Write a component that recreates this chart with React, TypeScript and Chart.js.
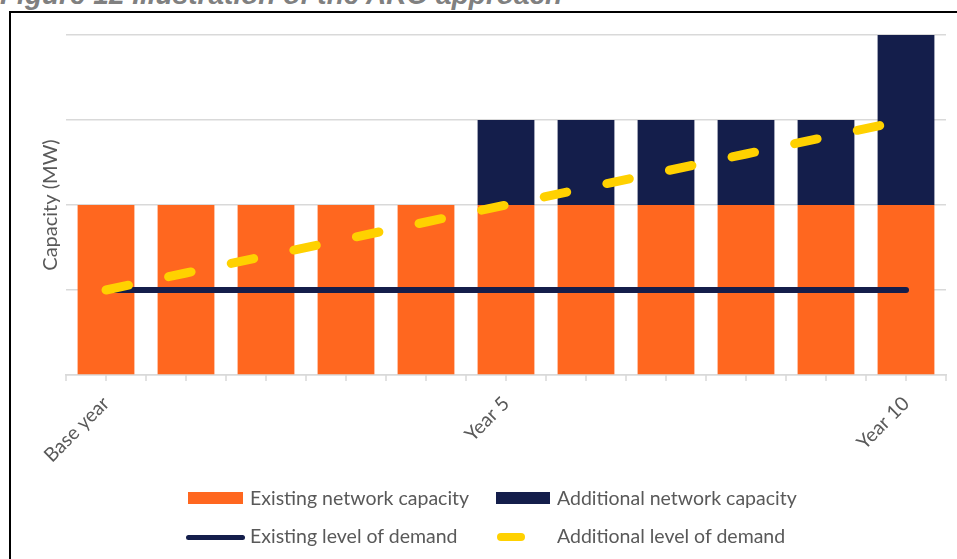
import React, { useEffect, useRef } from "react";
import { Chart, registerables } from "chart.js";

Chart.register(...registerables);

const categories = ["Base year", "", "", "", "", "Year 5", "", "", "", "", "Year 10"];
const existingCapacity = [2, 2, 2, 2, 2, 2, 2, 2, 2, 2, 2];
const additionalCapacity = [0, 0, 0, 0, 0, 1, 1, 1, 1, 1, 2];
const existingDemand = [1, 1, 1, 1, 1, 1, 1, 1, 1, 1, 1];
const additionalDemand = [1, 1.2, 1.4, 1.6, 1.8, 2, 2.2, 2.4, 2.6, 2.8, 3];
const yMin = 0;
const yMax = 4;
const yStep = 1;

const ORANGE = "#FF671F";
const NAVY = "#141E4B";
const YELLOW = "#FFD100";
const TEXT = "#595959";
const GRID = "#d9d9d9";
const FONT = "Lato, 'Open Sans', sans-serif";

const xTickPlugin = {
  id: "xHalfTicks",
  afterDraw(chart: any) {
    const x = chart.scales.x;
    const ctx = chart.ctx;
    const bottom = chart.chartArea.bottom;
    const half = (x.getPixelForValue(1) - x.getPixelForValue(0)) / 2;
    ctx.save();
    ctx.strokeStyle = GRID;
    ctx.lineWidth = 1.5;
    const pos: number[] = [];
    for (let i = 0; i < categories.length; i++) {
      const c = x.getPixelForValue(i);
      pos.push(c - half, c);
    }
    pos.push(x.getPixelForValue(categories.length - 1) + half);
    ctx.beginPath();
    for (const p of pos) {
      ctx.moveTo(p, bottom);
      ctx.lineTo(p, bottom + 6);
    }
    ctx.stroke();
    ctx.restore();
  },
};

export default function App() {
  const ref = useRef<HTMLCanvasElement>(null);

  useEffect(() => {
    if (!ref.current) return;
    const chart = new Chart(ref.current, {
      type: "bar",
      data: {
        labels: categories,
        datasets: [
          {
            type: "line",
            label: "Additional level of demand",
            data: additionalDemand,
            borderColor: YELLOW,
            backgroundColor: YELLOW,
            borderWidth: 9,
            borderDash: [23, 41],
            borderCapStyle: "round",
            pointRadius: 0,
            fill: false,
            tension: 0,
            stack: "l2",
            order: 0,
          } as any,
          {
            type: "line",
            label: "Existing level of demand",
            data: existingDemand,
            borderColor: NAVY,
            backgroundColor: NAVY,
            borderWidth: 6,
            borderCapStyle: "round",
            pointRadius: 0,
            fill: false,
            tension: 0,
            stack: "l1",
            order: 1,
          } as any,
          {
            label: "Existing network capacity",
            data: existingCapacity,
            backgroundColor: ORANGE,
            barPercentage: 0.71,
            categoryPercentage: 1,
            stack: "bars",
            order: 2,
          },
          {
            label: "Additional network capacity",
            data: additionalCapacity,
            backgroundColor: NAVY,
            barPercentage: 0.71,
            categoryPercentage: 1,
            stack: "bars",
            order: 2,
          },
        ],
      },
      options: {
        animation: false,
        responsive: false,
        maintainAspectRatio: false,
        layout: { padding: { left: 37, top: 35, right: 11, bottom: 84 } },
        plugins: {
          legend: { display: false },
          tooltip: { enabled: false },
          title: { display: false },
        },
        scales: {
          x: {
            stacked: true,
            offset: true,
            grid: { display: false, drawTicks: false },
            border: { display: true, color: GRID, width: 1.5 },
            ticks: {
              autoSkip: false,
              minRotation: 45,
              maxRotation: 45,
              color: TEXT,
              padding: 17,
              font: { family: FONT, size: 19.5 },
            },
            afterFit: (s: any) => {
              s.height = 100;
            },
          },
          y: {
            stacked: true,
            min: yMin,
            max: yMax,
            ticks: { display: false, stepSize: yStep },
            grid: { color: GRID, lineWidth: 1.5, drawTicks: false },
            border: { display: false },
            title: {
              display: true,
              text: "Capacity (MW)",
              color: TEXT,
              font: { family: FONT, size: 20 },
              padding: { top: 2, bottom: 0 },
            },
            afterFit: (s: any) => {
              s.width = 29;
            },
          },
        },
      },
      plugins: [xTickPlugin],
    });
    return () => chart.destroy();
  }, []);

  const legendText: React.CSSProperties = {
    position: "absolute",
    fontFamily: FONT,
    fontSize: 19.5,
    lineHeight: "20px",
    color: TEXT,
    whiteSpace: "nowrap",
  };

  return (
    <div
      style={{
        position: "fixed",
        left: 0,
        top: 0,
        width: 957,
        height: 559,
        background: "#fff",
        overflow: "hidden",
      }}
    >
      <div
        style={{
          position: "absolute",
          left: 0,
          top: -19,
          fontFamily: "'Liberation Sans', Arial, sans-serif",
          fontWeight: "bold",
          fontStyle: "italic",
          fontSize: 28,
          lineHeight: "28px",
          color: "#808080",
          whiteSpace: "nowrap",
        }}
      >
        Figure 12 Illustration of the ARO approach
      </div>
      <div
        style={{
          position: "absolute",
          left: 9,
          top: 11,
          width: 980,
          height: 600,
          borderLeft: "2px solid #000",
          borderTop: "2px solid #000",
        }}
      />
      <canvas
        ref={ref}
        width={957}
        height={559}
        style={{ position: "absolute", left: 0, top: 0, width: 957, height: 559 }}
      />
      <div style={{ position: "absolute", left: 188, top: 492, width: 55, height: 12, background: ORANGE }} />
      <div style={{ ...legendText, left: 250, top: 488 }}>Existing network capacity</div>
      <div style={{ position: "absolute", left: 496, top: 492, width: 54, height: 12, background: NAVY }} />
      <div style={{ ...legendText, left: 557, top: 488 }}>Additional network capacity</div>
      <div
        style={{ position: "absolute", left: 186, top: 535, width: 59, height: 5, background: NAVY, borderRadius: 3 }}
      />
      <div style={{ ...legendText, left: 250, top: 526 }}>Existing level of demand</div>
      <div
        style={{ position: "absolute", left: 497, top: 533, width: 28, height: 8, background: YELLOW, borderRadius: 4 }}
      />
      <div style={{ ...legendText, left: 557, top: 526 }}>Additional level of demand</div>
    </div>
  );
}
